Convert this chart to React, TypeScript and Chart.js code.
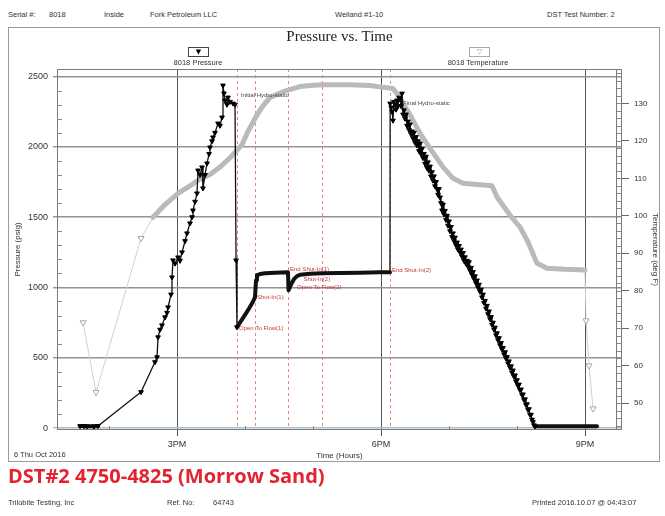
import React, { useEffect, useRef } from 'react';
import { Chart, registerables } from 'chart.js';

Chart.register(...registerables);

// ---------- data ----------
const pressureTimes = [
  13.574, 13.632, 13.676, 13.779, 13.838, 14.471, 14.676, 14.706, 14.721, 14.75,
  14.779, 14.824, 14.853, 14.868, 14.912, 14.926, 14.941, 14.971, 15.015, 15.044,
  15.074, 15.118, 15.147, 15.191, 15.221, 15.235, 15.265, 15.294, 15.309, 15.338,
  15.368, 15.382, 15.412, 15.441, 15.471, 15.485, 15.515, 15.529, 15.559, 15.603,
  15.632, 15.662, 15.676, 15.691, 15.706, 15.735, 15.75, 15.779, 15.824, 15.853,
  15.868, 15.882, 15.941, 16.0, 16.059, 16.118, 16.147, 16.162, 16.176, 16.221,
  16.294, 16.441, 16.632, 16.64, 16.676, 16.721, 16.765, 16.809, 16.956, 17.132,
  17.397, 17.691, 17.985, 18.132,
  18.134, 18.15, 18.162, 18.176, 18.19, 18.206, 18.221, 18.235, 18.25, 18.265,
  18.279, 18.294, 18.309, 18.324, 18.338, 18.353, 18.368, 18.382, 18.397, 18.412,
  18.426, 18.441, 18.456, 18.471, 18.485, 18.5, 18.515, 18.529, 18.544, 18.559,
  18.574, 18.588, 18.603, 18.618, 18.632, 18.647, 18.662, 18.676, 18.691, 18.706,
  18.721, 18.735, 18.75, 18.765, 18.779, 18.794, 18.809, 18.824, 18.838, 18.853,
  18.868, 18.882, 18.897, 18.912, 18.926, 18.941, 18.956, 18.971, 18.985, 19.0,
  19.015, 19.029, 19.044, 19.059, 19.074, 19.088, 19.103, 19.118, 19.132, 19.147,
  19.162, 19.176, 19.191, 19.206, 19.221, 19.235, 19.25, 19.265, 19.279, 19.294,
  19.309, 19.324, 19.338, 19.353, 19.368, 19.382, 19.397, 19.412, 19.426, 19.441,
  19.456, 19.471, 19.485, 19.5, 19.515, 19.529, 19.544, 19.559, 19.574, 19.588,
  19.603, 19.618, 19.632, 19.647, 19.662, 19.676, 19.691, 19.706, 19.721, 19.735,
  19.75, 19.765, 19.779, 19.794, 19.809, 19.824, 19.838, 19.853, 19.868, 19.882,
  19.897, 19.912, 19.926, 19.941, 19.956, 19.971, 19.985, 20.0, 20.015, 20.029,
  20.044, 20.059, 20.074, 20.088, 20.103, 20.118, 20.132, 20.147, 20.162, 20.176,
  20.191, 20.206, 20.221, 20.235, 20.25, 20.265,
  20.412, 20.632, 20.853, 21.074, 21.176,
];
const pressureValues = [
  14, 14, 12, 12, 15, 256, 469, 504, 646, 700,
  731, 788, 820, 859, 950, 1072, 1193, 1170, 1214, 1190,
  1250, 1330, 1385, 1456, 1500, 1548, 1610, 1669, 1832, 1800,
  1854, 1705, 1800, 1882, 1950, 1996, 2040, 2067, 2100, 2166,
  2150, 2209, 2436, 2380, 2330, 2300, 2351, 2320, 2308, 2300,
  1193, 717, 760, 805, 850, 900, 930, 1050, 1087, 1095,
  1100, 1105, 1108, 980, 1020, 1060, 1080, 1090, 1097, 1100,
  1103, 1105, 1107, 1108,
  2308, 2280, 2250, 2187, 2320, 2300, 2265, 2330, 2290, 2350,
  2340, 2290, 2379, 2230, 2260, 2200, 2230, 2150, 2180, 2120,
  2160, 2090, 2110, 2060, 2100, 2030, 2070, 2010, 2040, 1970,
  2024, 1950, 1985, 1920, 1950, 1880, 1930, 1850, 1890, 1830,
  1860, 1790, 1820, 1760, 1790, 1720, 1750, 1700, 1660, 1700,
  1640, 1600, 1548, 1590, 1520, 1545, 1480, 1510, 1440, 1470,
  1400, 1430, 1360, 1385, 1330, 1355, 1300, 1320, 1270, 1295,
  1250, 1270, 1220, 1245, 1190, 1215, 1170, 1190, 1150, 1180,
  1120, 1140, 1090, 1110, 1060, 1080, 1030, 1050, 1000, 1020,
  970, 985, 930, 950, 890, 905, 850, 870, 810, 830,
  775, 790, 735, 750, 700, 715, 660, 675, 625, 640,
  590, 605, 560, 570, 525, 540, 495, 505, 460, 475,
  430, 440, 395, 410, 365, 375, 330, 341, 300, 310,
  270, 275, 235, 240, 200, 205, 165, 170, 130, 135,
  95, 95, 60, 43, 20, 12,
  12, 12, 12, 12, 12,
];

const temperatureTimes = [
  13.618, 13.809, 14.471, 14.647, 14.824, 15.015, 15.191, 15.309, 15.485, 15.632,
  15.779, 15.882, 15.956, 16.029, 16.147, 16.25, 16.368, 16.515, 16.618, 16.809,
  16.956, 17.147, 17.544, 17.838, 18.029, 18.176, 18.279, 18.324, 18.426, 18.574,
  18.721, 18.912, 19.059, 19.206, 19.456, 19.632, 19.706, 19.824, 19.926, 20.044,
  20.162, 20.294, 20.441, 20.706, 21.0, 21.015, 21.059, 21.118,
];
const temperatureValues = [
  71.5, 52.9, 94, 99.6, 103, 106, 108, 109.5, 111, 113,
  115.5, 117.5, 119, 122, 126, 129, 131.6, 132.8, 133.5, 134.5,
  134.8, 135, 135, 134.8, 134.3, 134, 131.6, 130, 127, 122,
  118, 113, 110, 108.7, 108.3, 108, 105, 102, 99.5, 97,
  93, 87.3, 86, 85.7, 85.5, 72, 60, 48.5,
];

// test events (hours of day)
const eventTimes = [15.882, 16.147, 16.632, 17.132, 18.132];

const annotationTexts = [
  'Initial Hydro-static', 'Open To Flow(1)', 'Shut-In(1)', 'End Shut-In(1)',
  'Shut-In(2)', 'Open To Flow(2)', 'End Shut-In(2)', 'Final Hydro-static',
];
const annotationTimes = [15.941, 15.912, 16.176, 16.662, 16.86, 16.765, 18.162, 18.324];
const annotationPressures = [2365, 710, 930, 1130, 1058, 1001, 1122, 2308];
const annotationIsEvent = [false, true, true, true, true, true, true, false];

const timeTicks = [15, 18, 21];
const timeTickLabels = ['3PM', '6PM', '9PM'];
const timeMinorTicks = [14, 16, 17, 19, 20];
const pressureTicks = [0, 500, 1000, 1500, 2000, 2500];
const pressureMinorStep = 100;
const temperatureTicks = [50, 60, 70, 80, 90, 100, 110, 120, 130];
const temperatureMinorStep = 2;

// styling windows (hours) where the record is dense
const pressureThick = [[13.5, 13.85], [15.88, 18.133], [20.26, 21.2]];
const pressureNoMarker = [[15.9, 18.133], [20.3, 21.2]];
const temperatureThick = [[14.64, 21.001]];

const inWin = (t: number, wins: number[][]) => wins.some(([a, b]) => t >= a && t <= b);

const overlayPlugin = {
  id: 'overlay',
  beforeDatasetsDraw(chart: any) {
    const { ctx, chartArea: a, scales } = chart;
    const x = scales.x;
    ctx.save();
    ctx.strokeStyle = '#d98a8a';
    ctx.lineWidth = 1;
    ctx.setLineDash([3, 3]);
    eventTimes.forEach((t) => {
      const px = Math.round(x.getPixelForValue(t)) + 0.5;
      ctx.beginPath();
      ctx.moveTo(px, a.top);
      ctx.lineTo(px, a.bottom);
      ctx.stroke();
    });
    ctx.restore();
  },
  afterDatasetsDraw(chart: any) {
    const { ctx, scales } = chart;
    ctx.save();
    ctx.font = '6px "Liberation Sans", Arial, sans-serif';
    ctx.textBaseline = 'middle';
    ctx.textAlign = 'left';
    annotationTexts.forEach((s, i) => {
      ctx.fillStyle = annotationIsEvent[i] ? '#c23a3a' : '#444';
      ctx.fillText(s, scales.x.getPixelForValue(annotationTimes[i]), scales.y.getPixelForValue(annotationPressures[i]));
    });
    ctx.restore();
  },
  afterDraw(chart: any) {
    const { ctx, chartArea: a, scales } = chart;
    const { x, y, y1 } = scales;
    ctx.save();
    ctx.strokeStyle = '#7a7a7a';
    ctx.lineWidth = 1;
    ctx.strokeRect(a.left + 0.5, a.top + 0.5, a.right - a.left - 1, a.bottom - a.top - 1);
    // inner right rule
    ctx.beginPath();
    ctx.moveTo(a.right - 5.5, a.top);
    ctx.lineTo(a.right - 5.5, a.bottom);
    ctx.stroke();
    ctx.strokeStyle = '#888';
    // left minor ticks
    for (let v = pressureMinorStep; v <= y.max; v += pressureMinorStep) {
      if (v % 500 === 0) continue;
      const py = Math.round(y.getPixelForValue(v)) + 0.5;
      ctx.beginPath();
      ctx.moveTo(a.left, py);
      ctx.lineTo(a.left + 5, py);
      ctx.stroke();
    }
    // right minor ticks
    for (let v = 44; v <= y1.max; v += temperatureMinorStep) {
      const py = Math.round(y1.getPixelForValue(v)) + 0.5;
      ctx.beginPath();
      ctx.moveTo(a.right - 5, py);
      ctx.lineTo(a.right, py);
      ctx.stroke();
    }
    // bottom minor ticks
    timeMinorTicks.forEach((h) => {
      const px = Math.round(x.getPixelForValue(h)) + 0.5;
      ctx.beginPath();
      ctx.moveTo(px, a.bottom);
      ctx.lineTo(px, a.bottom - 4);
      ctx.stroke();
    });
    ctx.restore();
  },
};

const SANS = '"Liberation Sans", Arial, sans-serif';

function T(props: { s: string; left: number; cy: number; size?: number; style?: any }) {
  const size = props.size ?? 7.5;
  return (
    <div
      style={{
        position: 'absolute',
        left: props.left,
        top: props.cy - size / 2,
        fontSize: size,
        lineHeight: 1,
        whiteSpace: 'nowrap',
        fontFamily: SANS,
        color: '#333',
        ...props.style,
      }}
    >
      {props.s}
    </div>
  );
}

export default function App() {
  const ref = useRef<HTMLCanvasElement>(null);

  useEffect(() => {
    const canvas = ref.current;
    if (!canvas) return;
    const chart = new Chart(canvas, {
      type: 'line',
      data: {
        datasets: [
          {
            label: '8018 Pressure',
            yAxisID: 'y',
            data: pressureTimes.map((t, i) => ({ x: t, y: pressureValues[i] })),
            borderColor: '#111',
            backgroundColor: '#000',
            borderWidth: 1.2,
            tension: 0,
            pointStyle: 'triangle',
            pointRotation: 180,
            pointRadius: (c: any) => (inWin(pressureTimes[c.dataIndex], pressureNoMarker) ? 0 : 2.7),
            pointBackgroundColor: '#000',
            pointBorderColor: '#000',
            pointBorderWidth: 1,
            segment: {
              borderWidth: (c: any) =>
                inWin(c.p0.parsed.x, pressureThick) && inWin(c.p1.parsed.x, pressureThick) ? 4 : 1.3,
            },
          } as any,
          {
            label: '8018 Temperature',
            yAxisID: 'y1',
            data: temperatureTimes.map((t, i) => ({ x: t, y: temperatureValues[i] })),
            borderColor: '#bdbdbd',
            borderWidth: 1,
            tension: 0,
            pointStyle: 'triangle',
            pointRotation: 180,
            pointRadius: (c: any) => (inWin(temperatureTimes[c.dataIndex], temperatureThick) ? 0 : 3.5),
            pointBackgroundColor: '#fff',
            pointBorderColor: '#a8a8a8',
            pointBorderWidth: 1,
            segment: {
              borderWidth: (c: any) =>
                inWin(c.p0.parsed.x, temperatureThick) && inWin(c.p1.parsed.x, temperatureThick) ? 5 : 1,
              borderColor: (c: any) =>
                inWin(c.p0.parsed.x, temperatureThick) && inWin(c.p1.parsed.x, temperatureThick) ? '#bababa' : '#cfcfcf',
            },
          } as any,
        ],
      },
      options: {
        responsive: false,
        animation: false,
        events: [],
        layout: { padding: { left: 8, right: 5, top: 69, bottom: 53 } },
        font: { family: SANS },
        plugins: { legend: { display: false }, tooltip: { enabled: false }, title: { display: false } },
        elements: { line: { borderJoinStyle: 'round', borderCapStyle: 'round' } },
        scales: {
          x: {
            type: 'linear',
            position: 'bottom',
            min: 13.235,
            max: 21.544,
            afterBuildTicks: (s: any) => {
              s.ticks = timeTicks.map((v) => ({ value: v }));
            },
            afterFit: (s: any) => {
              s.height = 33;
            },
            ticks: {
              callback: (_v: any, i: number) => timeTickLabels[i],
              font: { size: 9, family: SANS },
              color: '#333',
              padding: 3,
              maxRotation: 0,
              autoSkip: false,
            },
            grid: { color: '#555', lineWidth: 1, tickLength: 6, drawTicks: true },
            border: { display: false },
            title: {
              display: true,
              text: 'Time (Hours)',
              font: { size: 8, family: SANS },
              color: '#333',
              padding: { top: 0, bottom: 2 },
            },
          },
          y: {
            type: 'linear',
            position: 'left',
            min: -14,
            max: 2553,
            afterBuildTicks: (s: any) => {
              s.ticks = pressureTicks.map((v) => ({ value: v }));
            },
            afterFit: (s: any) => {
              s.width = 49;
            },
            ticks: {
              font: { size: 9, family: SANS },
              color: '#333',
              padding: 5,
              callback: (v: any) => String(v),
            },
            grid: {
              color: (c: any) => (c.tick && c.tick.value === 0 ? '#aabdce' : '#939393'),
              lineWidth: 1.4,
              tickLength: 4,
            },
            border: { display: false },
            title: {
              display: true,
              text: 'Pressure (psig)',
              font: { size: 8, family: SANS },
              color: '#333',
              padding: { top: 5, bottom: 0 },
            },
          },
          y1: {
            type: 'linear',
            position: 'right',
            min: 42.8,
            max: 139.2,
            afterBuildTicks: (s: any) => {
              s.ticks = temperatureTicks.map((v) => ({ value: v }));
            },
            afterFit: (s: any) => {
              s.width = 38;
            },
            ticks: {
              font: { size: 8, family: SANS },
              color: '#333',
              padding: 5,
              callback: (v: any) => String(v),
            },
            grid: { drawOnChartArea: false, color: '#666', tickLength: 7, lineWidth: 1 },
            border: { display: false },
            title: {
              display: true,
              text: 'Temperature (deg F)',
              font: { size: 8, family: SANS },
              color: '#333',
              padding: { top: 0, bottom: 0 },
            },
          },
        },
      } as any,
      plugins: [overlayPlugin],
    });
    return () => chart.destroy();
  }, []);

  return (
    <div
      style={{
        position: 'absolute',
        left: 0,
        top: 0,
        width: 665,
        height: 516,
        background: '#fff',
        overflow: 'hidden',
        fontFamily: SANS,
      }}
    >
      {/* header */}
      <T s="Serial #:" left={8} cy={15} />
      <T s="8018" left={49} cy={15} />
      <T s="Inside" left={104} cy={15} />
      <T s="Fork Petroleum LLC" left={150} cy={15} />
      <T s="Weiland #1-10" left={335} cy={15} />
      <T s="DST Test Number: 2" left={547} cy={15} />

      {/* frame */}
      <div
        style={{
          position: 'absolute',
          left: 8,
          top: 27,
          width: 652,
          height: 435,
          border: '1.5px solid #9a9a9a',
          boxSizing: 'border-box',
        }}
      />

      <canvas ref={ref} width={665} height={516} style={{ position: 'absolute', left: 0, top: 0, width: 665, height: 516 }} />

      {/* title */}
      <div
        style={{
          position: 'absolute',
          left: 339.5,
          top: 28.5,
          transform: 'translateX(-50%)',
          fontFamily: '"Liberation Serif", "Times New Roman", serif',
          fontSize: 15,
          lineHeight: 1,
          whiteSpace: 'nowrap',
          color: '#222',
        }}
      >
        Pressure vs. Time
      </div>

      {/* legend */}
      <div
        style={{
          position: 'absolute',
          left: 188,
          top: 47,
          width: 21,
          height: 10,
          border: '1px solid #444',
          boxSizing: 'border-box',
          fontSize: 7,
          lineHeight: '8px',
          textAlign: 'center',
          color: '#000',
          fontFamily: '"DejaVu Sans", sans-serif',
        }}
      >
        ▼
      </div>
      <div style={{ position: 'absolute', left: 198, top: 59.3, transform: 'translateX(-50%)', fontSize: 7.5, lineHeight: 1, whiteSpace: 'nowrap', color: '#333' }}>
        8018 Pressure
      </div>
      <div
        style={{
          position: 'absolute',
          left: 469,
          top: 47,
          width: 21,
          height: 10,
          border: '1px solid #aaa',
          boxSizing: 'border-box',
          fontSize: 7,
          lineHeight: '8px',
          textAlign: 'center',
          color: '#999',
          fontFamily: '"DejaVu Sans", sans-serif',
        }}
      >
        ▽
      </div>
      <div style={{ position: 'absolute', left: 478, top: 59.3, transform: 'translateX(-50%)', fontSize: 7.5, lineHeight: 1, whiteSpace: 'nowrap', color: '#333' }}>
        8018 Temperature
      </div>

      <T s="6 Thu Oct 2016" left={14} cy={455} />

      {/* caption */}
      <div
        style={{
          position: 'absolute',
          left: 8,
          top: 465,
          fontFamily: '"Open Sans", sans-serif',
          fontWeight: 700,
          fontSize: 20,
          lineHeight: '21px',
          whiteSpace: 'nowrap',
          color: '#e3232f',
        }}
      >
        DST#2 4750-4825 (Morrow Sand)
      </div>

      {/* footer */}
      <T s="Trilobite Testing, Inc" left={8} cy={503} />
      <T s="Ref. No:" left={167} cy={503} />
      <T s="64743" left={213} cy={503} />
      <T s="Printed 2016.10.07 @ 04:43:07" left={532} cy={503} />
    </div>
  );
}
